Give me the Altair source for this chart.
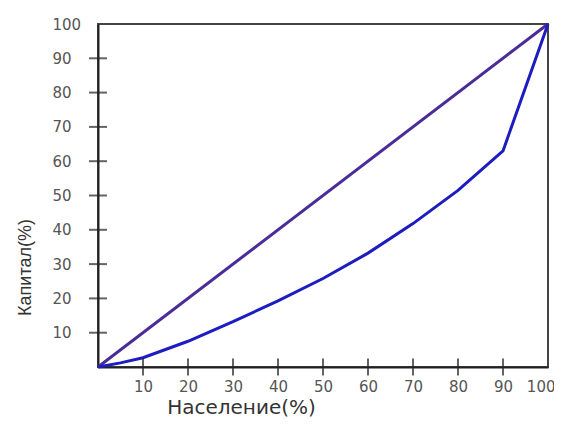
import altair as alt
import pandas as pd

# Equality line
eq_x = [0, 100]
eq_y = [0, 100]

# Lorenz curve (population %, capital %)
pop = [0, 5, 10, 20, 30, 40, 50, 60, 70, 80, 90, 100]
cap = [0, 1.2, 2.7, 7.5, 13.2, 19.3, 25.8, 33.2, 41.8, 51.5, 63, 100]

tick_vals = [10, 20, 30, 40, 50, 60, 70, 80, 90]
label_vals = [10, 20, 30, 40, 50, 60, 70, 80, 90, 100]

eq_df = pd.DataFrame({"x": eq_x, "y": eq_y})
lor_df = pd.DataFrame({"x": pop, "y": cap})
xt_df = pd.DataFrame({"x": tick_vals, "y": [0] * len(tick_vals)})
yt_df = pd.DataFrame({"x": [0] * len(tick_vals), "y": tick_vals})

LABEL_FONT = "DejaVu Sans"

scale = alt.Scale(domain=[0, 100], nice=False, zero=True)

x_axis = alt.Axis(
    title="Население(%)", values=label_vals, ticks=False, tickSize=0, grid=False,
    domainColor="#222222", domainWidth=2,
    labelFont=LABEL_FONT, labelFontSize=15, labelColor="#555555", labelPadding=12,
    labelFlush=True, labelFlushOffset=7,
    titleFont=LABEL_FONT, titleFontSize=20, titleFontWeight="normal", titleColor="#333333",
    titleX=143, titleY=46, titleAlign="center", titleBaseline="alphabetic",
)
y_axis = alt.Axis(
    title="Капитал(%)", values=label_vals, ticks=False, tickSize=0, grid=False,
    domainColor="#222222", domainWidth=2,
    labelFont=LABEL_FONT, labelFontSize=15, labelColor="#555555", labelPadding=46,
    labelAlign="left", labelBaseline="middle", labelFlush=False,
    titleFont="Liberation Sans", titleFontSize=18, titleFontWeight="normal", titleColor="#333333",
    titleX=-68, titleY=243, titleAlign="center", titleBaseline="alphabetic", titleAngle=270,
)

def X():
    return alt.X("x:Q", scale=scale, axis=x_axis)

def Y():
    return alt.Y("y:Q", scale=scale, axis=y_axis)

equality = alt.Chart(eq_df).mark_line(color="#4a2c98", strokeWidth=3).encode(x=X(), y=Y())
lorenz = alt.Chart(lor_df).mark_line(color="#1c1cc0", strokeWidth=3).encode(x=X(), y=Y())
xticks = alt.Chart(xt_df).mark_tick(orient="vertical", size=17, thickness=2, color="#222222").encode(x=X(), y=Y())
yticks = alt.Chart(yt_df).mark_tick(orient="horizontal", size=18, thickness=2, color="#222222").encode(x=X(), y=Y())

chart = alt.layer(equality, lorenz, xticks, yticks).properties(
    width=450, height=343,
    autosize=alt.AutoSizeParams(type="none"),
    padding={"left": 90, "top": 16, "right": 6, "bottom": 53},
    background="white",
).configure_view(stroke="#444444", strokeWidth=2)

chart.save("out.html", embed_options={"renderer": "svg", "actions": False})
